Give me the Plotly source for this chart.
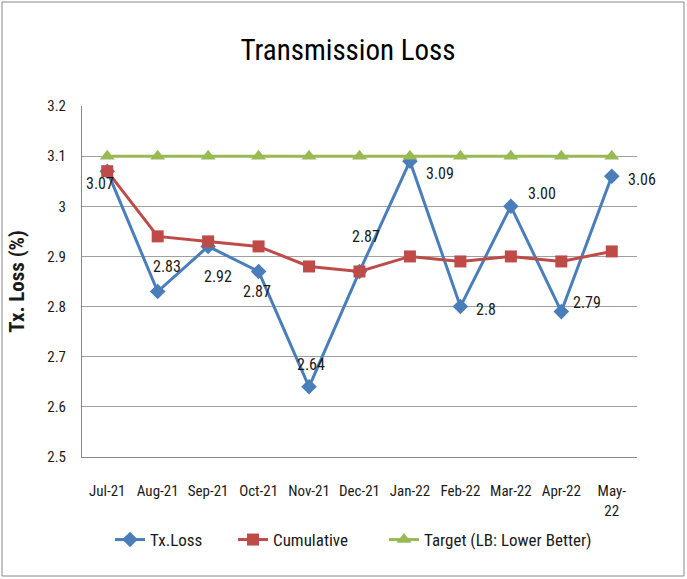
import plotly.graph_objects as go

months = ["Jul-21", "Aug-21", "Sep-21", "Oct-21", "Nov-21", "Dec-21",
          "Jan-22", "Feb-22", "Mar-22", "Apr-22", "May-22"]
tick_text = ["Jul-21", "Aug-21", "Sep-21", "Oct-21", "Nov-21", "Dec-21",
             "Jan-22", "Feb-22", "Mar-22", "Apr-22", "May-<br>22"]
tx_loss = [3.07, 2.83, 2.92, 2.87, 2.64, 2.87, 3.09, 2.80, 3.00, 2.79, 3.06]
tx_labels = ["3.07", "2.83", "2.92", "2.87", "2.64", "2.87", "3.09", "2.8", "3.00", "2.79", "3.06"]
cumulative = [3.07, 2.94, 2.93, 2.92, 2.88, 2.87, 2.90, 2.89, 2.90, 2.89, 2.91]
target = [3.1] * 11

label_shift = [(-7, -12), (9, 25), (10, -30), (-2, -20), (2, 22), (6, 35),
               (30, -12), (26, -3), (31, 13), (26, 9), (30, -3)]

FONT = "Liberation Sans Narrow, Arial Narrow, Roboto Condensed, Roboto, sans-serif"
BLUE = "#4a7ebb"
RED = "#be4b48"
GREEN = "#98b954"

fig = go.Figure()
fig.add_trace(go.Scatter(x=months, y=tx_loss, name="Tx.Loss", mode="lines+markers",
                         line=dict(color=BLUE, width=3), legend="legend",
                         marker=dict(symbol="diamond", size=12, color=BLUE)))
fig.add_trace(go.Scatter(x=months, y=cumulative, name="Cumulative", mode="lines+markers",
                         line=dict(color=RED, width=3), legend="legend2",
                         marker=dict(symbol="square", size=12, color=RED)))
fig.add_trace(go.Scatter(x=months, y=target, name="Target (LB: Lower Better)", mode="lines+markers",
                         line=dict(color=GREEN, width=3), legend="legend3",
                         marker=dict(symbol="triangle-up", size=13, color=GREEN)))

for m, v, t, (dx, dy) in zip(months, tx_loss, tx_labels, label_shift):
    fig.add_annotation(x=m, y=v, text=t, showarrow=False, xshift=dx, yshift=dy,
                       font=dict(family=FONT, size=16, color="#1a1a1a"))

L, R, T, B = 82, 50, 106, 122
W, H = 687, 579
pw, ph = W - L - R, H - T - B
fig.add_shape(type="rect", xref="paper", yref="paper",
              x0=(2 - L) / pw, x1=(W - 3 - L) / pw,
              y0=-(H - 3 - T - ph) / ph, y1=1 + (T - 2) / ph,
              line=dict(color="#888888", width=1), layer="below")


def leg(x_px):
    return dict(orientation="h", x=x_px / W, xref="container", xanchor="left",
                y=1 - 540 / H, yref="container", yanchor="middle",
                font=dict(size=17, color="#1a1a1a"), itemwidth=30,
                bgcolor="rgba(0,0,0,0)")


fig.update_layout(
    width=W, height=H,
    margin=dict(l=L, r=R, t=T, b=B, autoexpand=False),
    paper_bgcolor="white", plot_bgcolor="white",
    font=dict(family=FONT, color="#1a1a1a"),
    title=dict(text="Transmission Loss", x=348 / W, xref="container", xanchor="center",
               y=1 - 50 / H, yref="container", yanchor="middle", automargin=False,
               font=dict(family=FONT, size=29, color="#000000")),
    xaxis=dict(type="category", tickvals=months, ticktext=tick_text, showgrid=False,
               showline=True, linecolor="#888888", linewidth=1, ticks="",
               tickfont=dict(size=15, color="#1a1a1a"), ticklabelstandoff=20,
               range=[-0.5, 10.5], automargin=False),
    yaxis=dict(range=[2.5, 3.2], dtick=0.1, showgrid=True, gridcolor="#a0a0a0", gridwidth=1,
               showline=True, linecolor="#888888", linewidth=1, zeroline=False,
               tickfont=dict(size=15, color="#1a1a1a"), ticklabelstandoff=12,
               automargin=False,
               title=dict(text="<b>Tx. Loss (%)</b>", standoff=16,
                          font=dict(size=21, color="#1a1a1a"))),
    legend=leg(110),
    legend2=leg(233),
    legend3=leg(384),
    showlegend=True,
)

fig.write_html("out.html", config={"displayModeBar": False},
               post_script="document.body.style.margin='0';")
